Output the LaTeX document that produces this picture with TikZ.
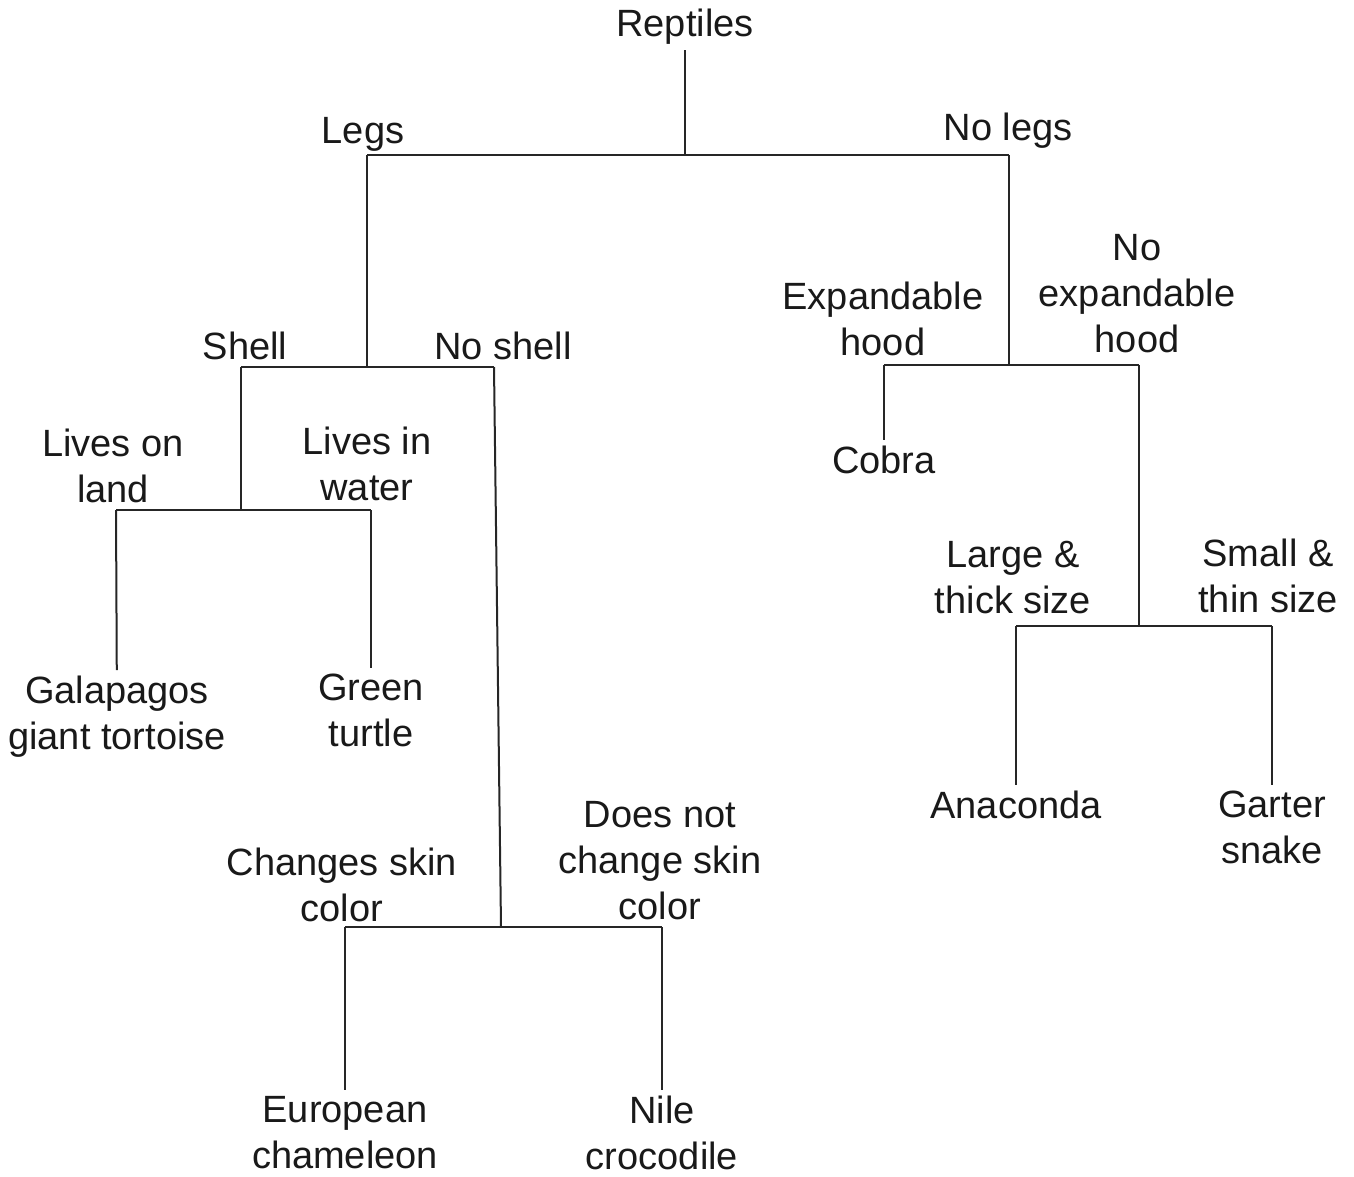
\documentclass[tikz,border=0pt]{standalone}
\usepackage{fontspec}
\setmainfont{Liberation Sans}
\begin{document}
\begin{tikzpicture}[x=1pt,y=-1pt,
  lbl/.style={font=\fontsize{38}{46}\selectfont, align=center, inner sep=0pt, outer sep=0pt, anchor=north, text=black!90},
  leaf/.style={lbl, outer sep=6pt},
  edge/.style={draw=black!85, line width=2pt}]
\useasboundingbox (0,0) rectangle (1354,1176);
% labels
\node[lbl] (rep) at (685,9) {Reptiles};
\node[lbl] (legs) at (363,117) {Legs};
\node[lbl] (nolegs) at (1008,113) {No legs};
\node[lbl] (shell) at (245,332) {Shell};
\node[lbl] (noshell) at (503,332) {No shell};
\node[lbl] (hood) at (883,282) {Expandable\\hood};
\node[lbl] (nohood) at (1137,234) {No\\expandable\\hood};
\node[lbl] (land) at (113,429) {Lives on\\land};
\node[lbl] (water) at (367,427) {Lives in\\water};
\node[lbl] (large) at (1013,541) {Large \&\\thick size};
\node[lbl] (small) at (1268,539) {Small \&\\thin size};
\node[lbl] (changes) at (342,848) {Changes skin\\color};
\node[lbl] (nochange) at (660,801) {Does not\\change skin\\color};
% leaves
\node[leaf] (cobra) at (884,440) {Cobra};
\node[leaf] (gal) at (117,670) {Galapagos\\giant tortoise};
\node[leaf] (green) at (371,668) {Green\\turtle};
\node[leaf] (ana) at (1016,785) {Anaconda};
\node[leaf] (garter) at (1272,785) {Garter\\snake};
\node[leaf] (euro) at (345,1090) {European\\chameleon};
\node[leaf] (nile) at (662,1090) {Nile\\crocodile};
% junctions
\coordinate (a0) at (685,155);
\coordinate (aL) at (367,155);
\coordinate (aR) at (1009,155);
\coordinate (b0) at (367,367);
\coordinate (bL) at (241,367);
\coordinate (bR) at (494,367);
\coordinate (c0) at (241,510);
\coordinate (cL) at (116,510);
\coordinate (cR) at (371,510);
\coordinate (d0) at (501,927);
\coordinate (dL) at (345,927);
\coordinate (dR) at (662,927);
\coordinate (e0) at (1009,365);
\coordinate (eL) at (884,365);
\coordinate (eR) at (1139,365);
\coordinate (f0) at (1139,626);
\coordinate (fL) at (1016,626);
\coordinate (fR) at (1272,626);
% connectors
\draw[edge, shorten <=6pt] (rep.south) -- (a0);
\draw[edge] (aL) -- (aR);
\draw[edge] (aL) -- (b0);
\draw[edge] (bL) -- (bR);
\draw[edge] (bL) -- (c0);
\draw[edge] (cL) -- (cR);
\draw[edge] (cL) -- (gal);
\draw[edge] (cR) -- (green);
\draw[edge] (bR) -- (d0);
\draw[edge] (dL) -- (dR);
\draw[edge] (dL) -- (euro);
\draw[edge] (dR) -- (nile);
\draw[edge] (aR) -- (e0);
\draw[edge] (eL) -- (eR);
\draw[edge] (eL) -- (cobra);
\draw[edge] (eR) -- (f0);
\draw[edge] (fL) -- (fR);
\draw[edge] (fL) -- (ana);
\draw[edge] (fR) -- (garter);
\end{tikzpicture}
\end{document}
